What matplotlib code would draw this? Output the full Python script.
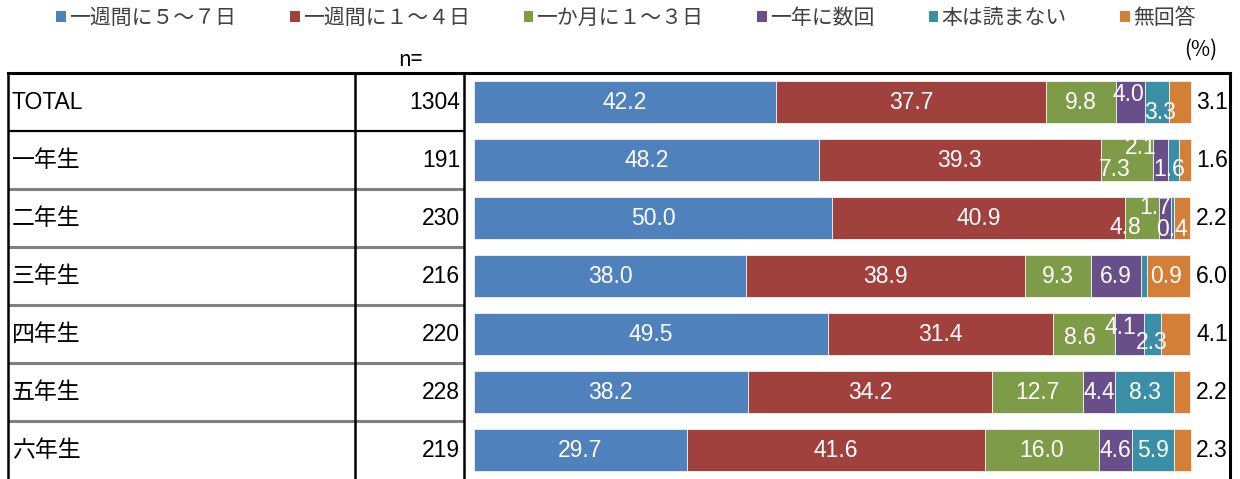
import matplotlib
matplotlib.use("Agg")
import matplotlib.pyplot as plt
from matplotlib.patches import Patch
import numpy as np

plt.rcParams['font.family'] = ['Liberation Sans', 'Noto Sans CJK JP']

# data
groups = ['TOTAL', '一年生', '二年生', '三年生', '四年生', '五年生', '六年生']
n_counts = [1304, 191, 230, 216, 220, 228, 219]
series = ['一週間に５～７日', '一週間に１～４日', '一か月に１～３日', '一年に数回', '本は読まない', '無回答']
values = np.array([
    [42.2, 37.7, 9.8, 4.0, 3.3, 3.1],
    [48.2, 39.3, 7.3, 2.1, 1.6, 1.6],
    [50.0, 40.9, 4.8, 1.7, 0.4, 2.2],
    [38.0, 38.9, 9.3, 6.9, 0.9, 6.0],
    [49.5, 31.4, 8.6, 4.1, 2.3, 4.1],
    [38.2, 34.2, 12.7, 4.4, 8.3, 2.2],
    [29.7, 41.6, 16.0, 4.6, 5.9, 2.3],
])
colors = ['#4F81BD', '#A0413D', '#7E9C48', '#684F8A', '#3A8EA6', '#D37F38']

# label nudges (pixels) where labels were moved by hand in the original
nudges = {
    (0, 3): (-2, 8), (0, 4): (3, -10),
    (1, 2): (-12, -9), (1, 3): (-20, 13), (1, 4): (-4, -9),
    (2, 2): (-17, -9), (2, 3): (-10, 11), (2, 4): (-1, -11),
    (3, 4): (22, 0),
    (4, 2): (-4, -3), (4, 3): (-9, 7), (4, 4): (-1, -8),
}

W, H = 1240, 479
fig = plt.figure(figsize=(W / 100, H / 100), dpi=100)

top_px = 73
row_px = 58
nrows = len(groups)
ax_h = (H - top_px) / H
fs = 16.5

# bar area: 0% at x=474px, 100% at x=1190px
px_per = (1190 - 474) / 100
ax = fig.add_axes([465 / W, 0, (1230 - 465) / W, ax_h])
ax.set_xlim(-(474 - 465) / px_per, (1230 - 474) / px_per)
ax.set_ylim(-0.5 + (H - top_px) / row_px, -0.5)
ax.axis('off')

y = np.arange(nrows)
left = np.zeros(nrows)
for j, name in enumerate(series):
    ax.barh(y, values[:, j], left=left, height=0.72, color=colors[j],
            edgecolor='#F2F2F2', linewidth=0.6)
    for i in range(nrows):
        v = values[i, j]
        if j < len(series) - 1:
            dx, dy = nudges.get((i, j), (0, 0))
            ax.annotate(f'{v:.1f}', xy=(left[i] + v / 2, y[i]), xytext=(dx, dy),
                        textcoords='offset pixels', ha='center', va='center',
                        color='white', fontsize=fs)
        else:
            ax.annotate(f'{v:.1f}', xy=(100, y[i]), xytext=(22, 0),
                        textcoords='offset pixels', ha='center', va='center',
                        color='black', fontsize=fs)
    left += values[:, j]

# table on the left
axt = fig.add_axes([8 / W, 0, (465 - 8) / W, ax_h])
axt.set_xlim(0, 465 - 8)
axt.set_ylim(-0.5 + (H - top_px) / row_px, -0.5)
axt.axis('off')
for i, (g, n) in enumerate(zip(groups, n_counts)):
    axt.text(4, i, g, ha='left', va='center', fontsize=fs, color='black')
    axt.text(452, i, str(n), ha='right', va='center', fontsize=fs, color='black')
for i in range(nrows - 1):
    if i == 0:
        axt.plot([0, 457], [i + 0.5, i + 0.5], color='black', lw=1.6, solid_capstyle='butt')
    else:
        axt.plot([0, 457], [i + 0.5, i + 0.5], color='#808080', lw=2.2, solid_capstyle='butt')

# outer frame and column lines
axf = fig.add_axes([0, 0, 1, 1], facecolor='none')
axf.set_xlim(0, W)
axf.set_ylim(H, 0)
axf.axis('off')
axf.plot([8, 1230], [top_px, top_px], color='black', lw=2.2, solid_capstyle='projecting')
for xv in [8, 355, 464, 1230]:
    axf.plot([xv, xv], [top_px, H], color='black', lw=1.8 if xv != 1230 else 2.2)

fig.text(410 / W, 1 - 60 / H, 'n=', ha='center', va='center', fontsize=15,
         family='Noto Sans CJK JP', color='black')
fig.text(1201 / W, 1 - 50 / H, '(%)', ha='center', va='center', fontsize=15,
         family='Noto Sans CJK JP', color='black')

handles = [Patch(facecolor=c, edgecolor='none') for c in colors]
fig.legend(handles, series, loc='center', bbox_to_anchor=(626 / W, 1 - 18 / H),
           ncol=6, frameon=False, handlelength=0.45, handleheight=0.45,
           handletextpad=0.15, columnspacing=2.6, labelcolor='#404040',
           prop={'family': 'Noto Sans CJK JP', 'size': 15})

fig.savefig('out.png', dpi=100)
